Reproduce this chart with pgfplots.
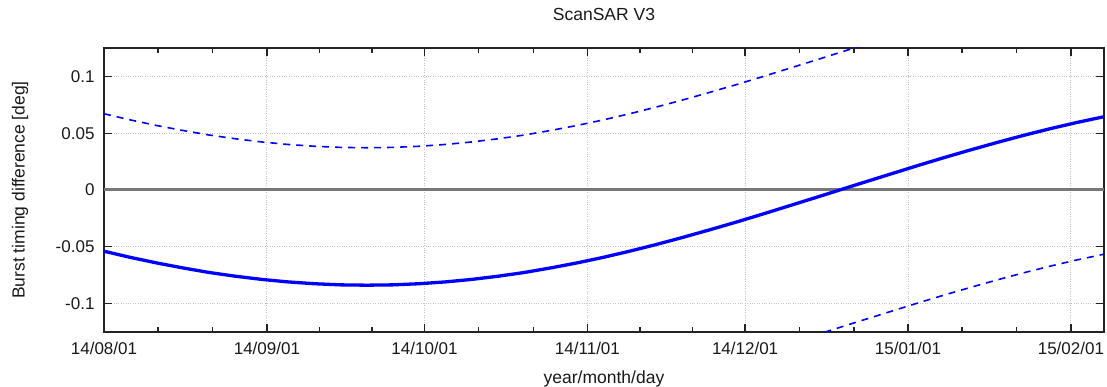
\documentclass[border=0pt]{standalone}
\usepackage{fontspec}
\setmainfont{Liberation Sans}
\usepackage{pgfplots}
\pgfplotsset{compat=1.18}
\usepackage{pgfplotstable}
\definecolor{zerogray}{RGB}{120,120,120}
\definecolor{gridgray}{RGB}{195,195,195}
\definecolor{framec}{RGB}{35,35,35}
\definecolor{txt}{RGB}{25,25,25}

\pgfplotstableread{
day val
0 -0.0539
5 -0.0593
10 -0.0642
15 -0.0686
20 -0.0726
25 -0.0759
30 -0.0787
35 -0.0809
40 -0.0825
45 -0.0835
50 -0.0838
55 -0.0835
60 -0.0825
65 -0.0809
70 -0.0787
75 -0.0759
80 -0.0726
85 -0.0686
90 -0.0642
95 -0.0593
100 -0.0539
105 -0.0481
110 -0.0419
115 -0.0354
120 -0.0287
125 -0.0217
130 -0.0145
135 -0.0073
140 0.0000
145 0.0073
150 0.0145
155 0.0217
160 0.0287
165 0.0354
170 0.0419
175 0.0481
180 0.0539
185 0.0593
190 0.0642
190.5 0.0646
}\maintable

\pgfplotstableread{
day val
0 0.0671
5 0.0617
10 0.0568
15 0.0524
20 0.0484
25 0.0451
30 0.0423
35 0.0401
40 0.0385
45 0.0375
50 0.0372
55 0.0375
60 0.0385
65 0.0401
70 0.0423
75 0.0451
80 0.0484
85 0.0524
90 0.0568
95 0.0617
100 0.0671
105 0.0729
110 0.0791
115 0.0856
120 0.0923
125 0.0993
130 0.1065
135 0.1137
140 0.1210
145 0.1283
150 0.1355
}\uppertable

\pgfplotstableread{
day val
130 -0.1355
135 -0.1283
140 -0.1210
145 -0.1137
150 -0.1065
155 -0.0993
160 -0.0923
165 -0.0856
170 -0.0791
175 -0.0729
180 -0.0671
185 -0.0617
190 -0.0568
190.5 -0.0564
}\lowertable

\begin{document}
\begin{tikzpicture}
\useasboundingbox (-104pt,-55pt) rectangle (1003pt,332pt);
\begin{axis}[
  at={(0pt,0pt)}, anchor=south west,
  scale only axis, width=1000pt, height=284pt,
  xmin=0, xmax=190.3, ymin=-0.125, ymax=0.125,
  xtick={0,31,61,92,122,153,184},
  xticklabels={14/08/01,14/09/01,14/10/01,14/11/01,14/12/01,15/01/01,15/02/01},
  minor xtick={10.3,20.7,41,51,71.3,81.7,102,112,132.3,142.7,163.3,173.7},
  ytick={-0.1,-0.05,0,0.05,0.1},
  yticklabels={-0.1,-0.05,0,0.05,0.1},
  tick align=inside,
  xtick pos=both, ytick pos=both,
  major tick length=8pt, minor tick length=5pt,
  grid=major,
  major grid style={gridgray, dotted, line width=0.9pt},
  axis line style={framec, line width=1.5pt},
  every tick/.style={framec, line width=1.3pt},
  tick label style={font=\fontsize{17}{20}\selectfont, text=txt},
  xticklabel style={yshift=-7pt},
  yticklabel style={xshift=-6pt},
  title={ScanSAR V3},
  title style={font=\fontsize{17.5}{20}\selectfont, text=txt, at={([yshift=28pt]axis description cs:0.5,1)}, anchor=center},
  xlabel={year/month/day},
  xlabel style={font=\fontsize{17.5}{20}\selectfont, text=txt, at={([yshift=-47pt]axis description cs:0.5,0)}, anchor=center},
  ylabel={Burst timing difference [deg]},
  ylabel style={font=\fontsize{17.5}{20}\selectfont, text=txt, at={([xshift=-84pt]axis description cs:0,0.5)}, anchor=center, rotate=0},
]
\addplot[zerogray, line width=3pt, no marks] coordinates {(0,0) (190.3,0)};
\addplot[blue, line width=1.6pt, dash pattern=on 7pt off 6pt, no marks] table[x=day,y=val] {\uppertable};
\addplot[blue, line width=1.6pt, dash pattern=on 7pt off 6pt, no marks] table[x=day,y=val] {\lowertable};
\addplot[blue, line width=3.3pt, no marks] table[x=day,y=val] {\maintable};
\end{axis}
\end{tikzpicture}
\end{document}
